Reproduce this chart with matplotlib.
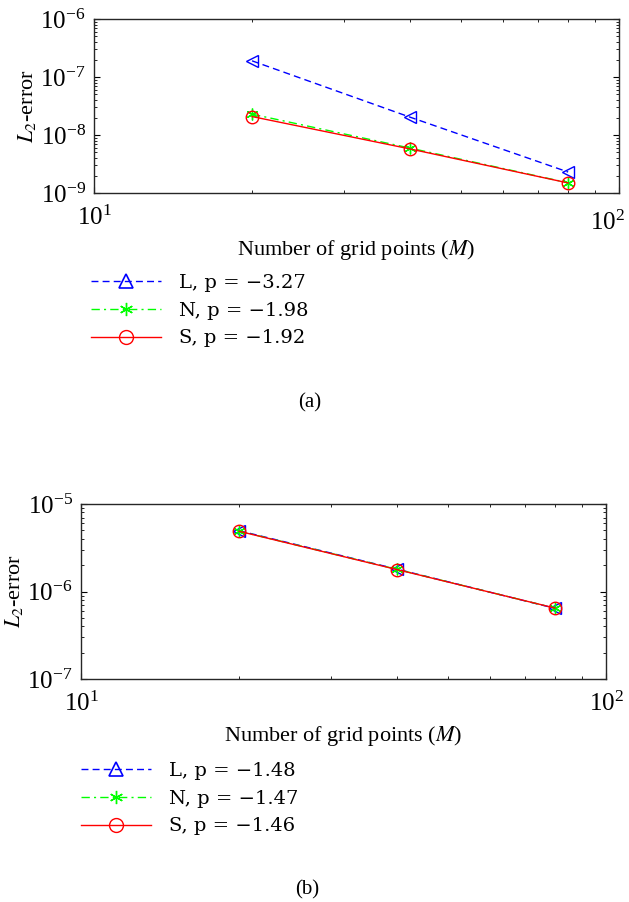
import matplotlib
matplotlib.use('Agg')
import matplotlib.pyplot as plt
from matplotlib.lines import Line2D
from matplotlib.ticker import NullFormatter, LogLocator, FixedFormatter, FixedLocator

plt.rcParams['font.family'] = 'serif'
plt.rcParams['font.serif'] = ['Liberation Serif', 'DejaVu Serif']
plt.rcParams['mathtext.fontset'] = 'stix'
plt.rcParams['xtick.direction'] = 'in'
plt.rcParams['ytick.direction'] = 'in'

# grid sizes
M = [20, 40, 80]

# panel (a) errors
err_a_L = [1.90e-7, 2.03e-8, 2.30e-9]
err_a_N = [2.29e-8, 5.95e-9, 1.50e-9]
err_a_S = [2.08e-8, 5.75e-9, 1.49e-9]
labels_a = ['L, p = \u22123.27', 'N, p = \u22121.98', 'S, p = \u22121.92']

# panel (b) errors
err_b_L = [4.95e-6, 1.80e-6, 6.42e-7]
err_b_N = [4.90e-6, 1.79e-6, 6.45e-7]
err_b_S = [4.88e-6, 1.78e-6, 6.46e-7]
labels_b = ['L, p = \u22121.48', 'N, p = \u22121.47', 'S, p = \u22121.46']

xticks = [10, 100]
xtick_labels = [r'$\mathdefault{10^{1}}$', r'$\mathdefault{10^{2}}$']

W, H = 629, 902
fig = plt.figure(figsize=(W / 100, H / 100), dpi=100)

blue, green, red = '#0000ff', '#00ff00', '#ff0000'
star = (6, 2, 0)
dash = (5, 3)
dashdot = (6, 3, 1.5, 3)


def panel(rect, errs, ylim, labels, leg_xy, tag, tag_xy, shift_last=0):
    ax = fig.add_axes(rect)
    eL, eN, eS = errs
    ax.loglog(M, eL, color=blue, ls=(0, dash), marker='<', ms=8.5, mfc='none', mew=1.0, lw=1.0)
    ax.loglog(M, eN, color=green, ls=(0, dashdot), marker=star, ms=8.5, mew=1.0, lw=1.0)
    ax.loglog(M, eS, '-', color=red, marker='o', ms=9, mfc='none', mew=1.0, lw=1.0)
    ax.set_xlim(10, 100)
    ax.set_ylim(*ylim)
    ax.xaxis.set_major_locator(FixedLocator(xticks))
    if shift_last:
        # last label is placed by hand so it stays inside the figure
        ax.xaxis.set_major_formatter(FixedFormatter([xtick_labels[0], '']))
        ax.annotate(xtick_labels[1], xy=(xticks[1], 0), xycoords=('data', 'axes fraction'),
                    xytext=(shift_last, -9 - 4), textcoords='offset points',
                    ha='center', va='top', fontsize=18)
    else:
        ax.xaxis.set_major_formatter(FixedFormatter(xtick_labels))
    ax.xaxis.set_minor_formatter(NullFormatter())
    ax.yaxis.set_minor_formatter(NullFormatter())
    ax.yaxis.set_minor_locator(LogLocator(base=10, subs=range(2, 10), numticks=20))
    ax.tick_params(which='both', top=True, right=True, labelsize=18)
    ax.tick_params(which='major', length=4, width=0.8)
    ax.tick_params(which='minor', length=2.5, width=0.6)
    ax.tick_params(axis='x', which='major', pad=9)
    ax.tick_params(axis='y', which='major', pad=6)
    for s in ax.spines.values():
        s.set_linewidth(1.0)
        s.set_color('#262626')
    ax.set_xlabel(r'Number of grid points ($M$)', fontsize=16, labelpad=6)
    ax.set_ylabel(r'$L_2$-error', fontsize=16, labelpad=2)

    handles = [
        Line2D([], [], ls=(0, dash), color=blue, marker='^', ms=9.5, mfc='none', mew=1.2, lw=1.0),
        Line2D([], [], ls=(0, dashdot), color=green, marker=star, ms=9.5, mew=1.0, lw=1.0),
        Line2D([], [], ls='-', color=red, marker='o', ms=10, mfc='none', mew=1.0, lw=1.0),
    ]
    fig.legend(handles, labels, loc='upper left',
               bbox_to_anchor=(leg_xy[0] / W, 1 - leg_xy[1] / H),
               frameon=False, borderpad=0, borderaxespad=0,
               handlelength=3.6, handletextpad=0.95, labelspacing=0.5,
               prop={'family': 'DejaVu Serif', 'size': 14})
    fig.text(tag_xy[0] / W, 1 - tag_xy[1] / H, tag, ha='center', va='center', fontsize=15)
    return ax


panel([94 / W, 1 - 193 / H, 525 / W, 174 / H],
      (err_a_L, err_a_N, err_a_S), (1e-9, 1e-6), labels_a,
      (91, 274), '(a)', (310, 403), shift_last=-8)
panel([81 / W, 1 - 679 / H, 525 / W, 175 / H],
      (err_b_L, err_b_N, err_b_S), (1e-7, 1e-5), labels_b,
      (81, 762), '(b)', (307, 890))

fig.savefig('out.png', dpi=100)
